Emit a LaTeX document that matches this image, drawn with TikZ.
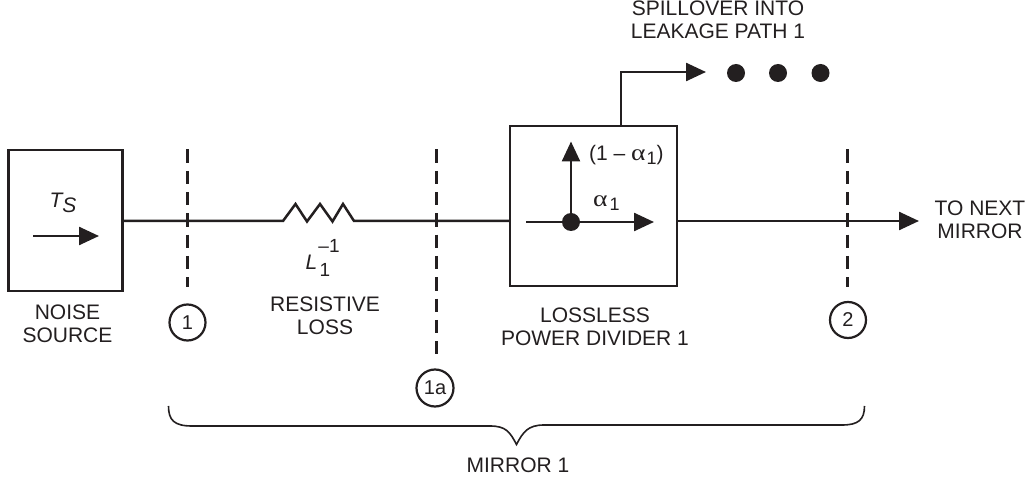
\documentclass[tikz,border=0pt]{standalone}
\usepackage{fontspec}
\setmainfont{Liberation Sans}
\newfontfamily\greekfont{Liberation Serif}
\usetikzlibrary{arrows.meta}
\definecolor{ink}{HTML}{231F20}
\tikzset{
  x=1pt,y=-1pt,
  every node/.style={text=ink},
  wire/.style={draw=ink,line width=2.5pt,line join=miter},
  blockbox/.style={draw=ink,line width=2.5pt,inner sep=0pt,outer sep=0pt},
  flow/.style={wire,-{Triangle[length=20pt,width=18pt]}},
  cut/.style={draw=ink,line width=2.7pt,dash pattern=on 13.3pt off 8pt},
  lab/.style={font=\fontsize{21}{23}\selectfont,align=center,inner sep=0pt},
  numring/.style={draw=ink,circle,line width=2.2pt,minimum size=36pt,inner sep=0pt,font=\fontsize{20}{22}\selectfont},
  blob/.style={fill=ink,circle,inner sep=0pt,minimum size=18pt},
}
\newcommand{\agr}{\scalebox{1.2}[1]{\fontsize{23}{23}\selectfont\greekfont α}}
\newcommand{\subone}{\raisebox{-4pt}{\fontsize{18}{18}\selectfont 1}}
\begin{document}
\begin{tikzpicture}
\useasboundingbox (0,0) rectangle (1029,486);
% blocks
\node[blockbox,minimum width=114pt,minimum height=141pt] (src) at (65.5,220.5) {};
\node[blockbox,minimum width=167pt,minimum height=160pt] (div) at (593.5,206) {};
% resistor ends
\coordinate (ra) at (283,221);
\coordinate (rb) at (354,221);
\draw[wire] (src.east |- ra) -- (ra) -- (295.5,204) -- (307,221.5) -- (320,204) -- (332.5,221.5) -- (343,204) -- (rb) -- (div.west |- rb);
% output
\coordinate (outtip) at (919,221);
\draw[flow] (div.east |- outtip) -- (outtip);
% spill
\coordinate (spillbase) at (621,126);
\coordinate (spilltip) at (706,72);
\draw[flow] (spillbase) |- (spilltip);
\node[blob] (d1) at (736,73) {};
\node[blob] (d2) at (778,73) {};
\node[blob] (d3) at (820.5,73) {};
% source arrow
\coordinate (sa) at (33,236);
\coordinate (sb) at (99,236);
\draw[flow] (sa) -- (sb);
% divider internals
\node[blob] (junc) at (571,222) {};
\coordinate (ja) at (526,222);
\coordinate (jb) at (654,222);
\coordinate (jc) at (571,141.5);
\draw[flow] (ja) -- (jb);
\draw[flow] (junc) -- (jc);
% cuts
\coordinate (c1a) at (187.5,149.5); \coordinate (c1b) at (187.5,287);
\coordinate (c2a) at (436.5,149.5); \coordinate (c2b) at (436.5,355);
\coordinate (c3a) at (847.5,149.5); \coordinate (c3b) at (847.5,287);
\draw[cut] (c1a) -- (c1b);
\draw[cut] (c2a) -- (c2b);
\draw[cut] (c3a) -- (c3b);
\node[numring] (n1) at (187.5,322.5) {1};
\node[numring,minimum size=37pt] (n1a) at (435,388) {1a};
\node[numring] (n2) at (848,320) {2};
% brace
\coordinate (bl) at (168.5,406);
\coordinate (br) at (864.5,406);
\coordinate (bt) at (516.5,444.5);
\draw[draw=ink,line width=1.6pt]
  (bl) .. controls (168.5,420) and (174,426) .. (192,426)
  -- (490,426) .. controls (506,426) and (510,432) .. (bt)
  .. controls (523,432) and (528,425) .. (544,425)
  -- (842,425) .. controls (858,425) and (864.5,420) .. (br);
% labels
\node[lab] (ts) at (63,203) {\itshape T\raisebox{-5pt}{\fontsize{21}{21}\selectfont S}};
\node[lab] (ll) at (311.5,262) {\itshape L};
\node[lab,font=\fontsize{19}{19}\selectfont] (ls) at (329,246) {–1};
\node[lab,font=\fontsize{19}{19}\selectfont] (lb) at (325,270) {1};
\node[lab] (nsrc) at (67.5,324) {NOISE\\SOURCE};
\node[lab] (rl) at (325,315.5) {RESISTIVE\\LOSS};
\node[lab] (lpd) at (595,326.5) {LOSSLESS\\POWER DIVIDER 1};
\node[lab] (spill) at (718,20) {SPILLOVER INTO\\LEAKAGE PATH 1};
\node[lab] (next) at (980,219.5) {TO NEXT\\MIRROR};
\node[lab] (mir) at (518,465) {MIRROR 1};
\node[lab,anchor=west] (frac) at (589,155) {(1 – \agr\kern1pt\subone)};
\node[lab,anchor=west] (alp) at (593,203) {\agr\kern2pt\subone};
\end{tikzpicture}
\end{document}
